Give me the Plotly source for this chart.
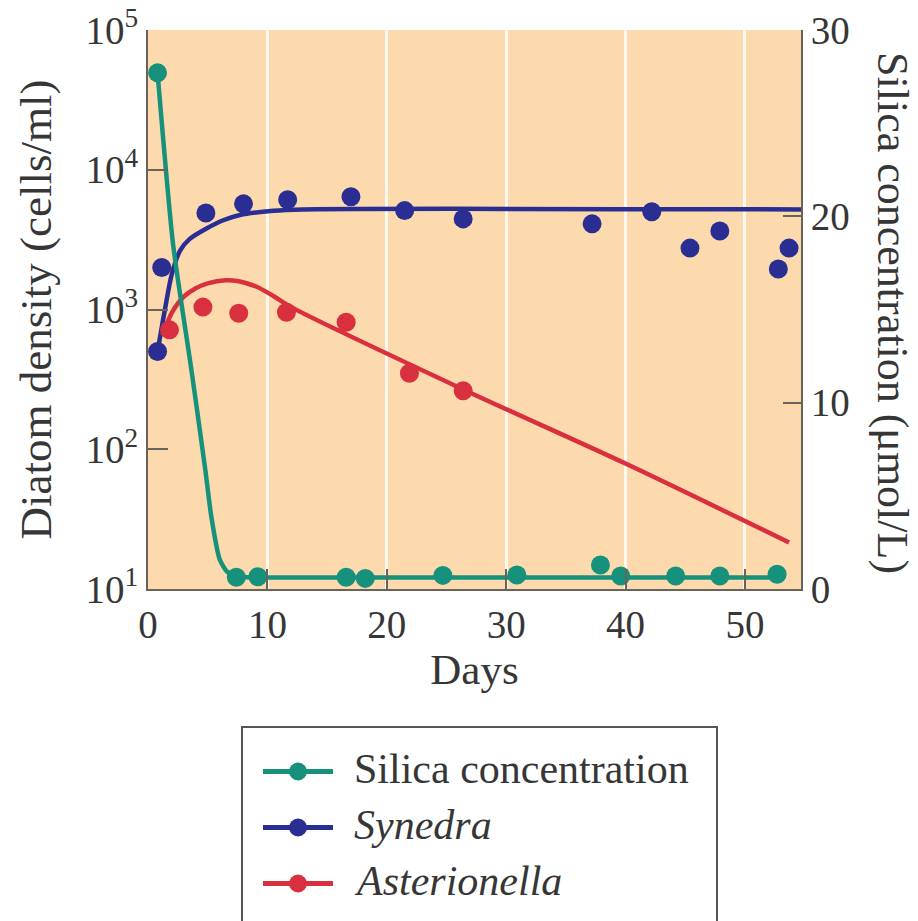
import plotly.graph_objects as go

# Measured samples (days since start)
silica_days = [0.8, 7.4, 9.2, 16.6, 18.2, 24.7, 30.9, 37.9, 39.6, 44.2, 47.9, 52.7]
silica_vals = [27.7, 0.63, 0.66, 0.63, 0.57, 0.73, 0.75, 1.29, 0.70, 0.70, 0.70, 0.79]

synedra_days = [0.8, 1.15, 4.85, 8.0, 11.7, 17.0, 21.5, 26.4, 37.2, 42.2, 45.4, 47.9, 52.8, 53.7]
synedra_vals = [500, 2000, 4900, 5700, 6100, 6400, 5100, 4450, 4100, 5000, 2750, 3650, 1950, 2750]

aster_days = [1.8, 4.6, 7.6, 11.6, 16.6, 21.9, 26.4]
aster_vals = [715, 1040, 940, 955, 810, 350, 262]

# Fitted trend curves
silica_fit_days = [0.8, 2.1, 3.65, 4.8, 5.3, 6.0, 6.6, 7.4, 9.0, 52.7]
silica_fit_vals = [27.7, 18.5, 11.7, 6.4, 3.9, 1.6, 0.95, 0.68, 0.62, 0.62]

synedra_fit_days = [0.8, 1.4, 2.0, 2.7, 3.5, 4.9, 6.3, 7.7, 10.5, 13.0, 54.7]
synedra_fit_vals = [500, 980, 1800, 2650, 3200, 3800, 4350, 4750, 5090, 5200, 5200]

aster_fit_days = [1.2, 2.0, 3.0, 4.0, 5.0, 6.5, 7.5, 9.1, 10.5, 12.0, 26.4, 40.0, 53.7]
aster_fit_vals = [650, 950, 1235, 1420, 1540, 1620, 1600, 1455, 1250, 1040, 268, 79, 21.5]

x_ticks = [0, 10, 20, 30, 40, 50]
density_ticks = [10, 100, 1000, 10000, 100000]
density_labels = ["10<sup>1</sup>", "10<sup>2</sup>", "10<sup>3</sup>", "10<sup>4</sup>", "10<sup>5</sup>"]
silica_ticks = [0, 10, 20, 30]

legend_names = ["Silica concentration", "<i>Synedra</i>", "<i>Asterionella</i>"]

GREEN = "#16917B"
BLUE = "#2A2D92"
RED = "#D8303E"
PEACH = "#FCDAAE"
AXIS = "#6A635A"
TEXT = "#363636"
FONT = "Liberation Serif"

fig = go.Figure()

fig.add_trace(go.Scatter(x=synedra_fit_days, y=synedra_fit_vals, mode="lines",
                         line=dict(color=BLUE, width=4.5, shape="spline", smoothing=0.8),
                         hoverinfo="skip"))
fig.add_trace(go.Scatter(x=synedra_days, y=synedra_vals, mode="markers",
                         marker=dict(color=BLUE, size=19), name="Synedra"))
fig.add_trace(go.Scatter(x=aster_fit_days, y=aster_fit_vals, mode="lines",
                         line=dict(color=RED, width=4.5, shape="spline", smoothing=0.8),
                         hoverinfo="skip"))
fig.add_trace(go.Scatter(x=aster_days, y=aster_vals, mode="markers",
                         marker=dict(color=RED, size=19), name="Asterionella"))
fig.add_trace(go.Scatter(x=silica_fit_days, y=silica_fit_vals, mode="lines", yaxis="y2",
                         line=dict(color=GREEN, width=4.5, shape="spline", smoothing=0.6),
                         hoverinfo="skip"))
fig.add_trace(go.Scatter(x=silica_days, y=silica_vals, mode="markers", yaxis="y2",
                         marker=dict(color=GREEN, size=19), name="Silica concentration"))

L, R, T, B = 148, 117, 30, 332
W, H = 918, 921
pw, ph = W - L - R, H - T - B


def px_x(px):
    return (px - L) / pw


def px_y(py):
    return (H - B - py) / ph


# Legend drawn as a framed key below the plot
shapes = [dict(type="rect", xref="paper", yref="paper",
               x0=px_x(242), x1=px_x(717), y0=px_y(940), y1=px_y(727),
               line=dict(color="#555555", width=2), fillcolor="white", layer="above")]
annotations = []
for i, (name, col) in enumerate(zip(legend_names, [GREEN, BLUE, RED])):
    cy = 771.5 + i * 56
    shapes.append(dict(type="line", xref="paper", yref="paper",
                       x0=px_x(263), x1=px_x(333), y0=px_y(cy), y1=px_y(cy),
                       line=dict(color=col, width=5)))
    shapes.append(dict(type="circle", xref="paper", yref="paper",
                       xsizemode="pixel", ysizemode="pixel",
                       xanchor=px_x(298), yanchor=px_y(cy),
                       x0=-9, x1=9, y0=-9, y1=9,
                       fillcolor=col, line=dict(color=col, width=0)))
    annotations.append(dict(xref="paper", yref="paper", x=px_x(352), y=px_y(cy - 3),
                            xanchor="left", yanchor="middle", showarrow=False,
                            text=name, font=dict(family=FONT, size=42, color=TEXT)))

annotations.append(dict(xref="paper", yref="paper", x=px_x(893), y=px_y(313),
                        xanchor="center", yanchor="middle", showarrow=False, textangle=90,
                        text="Silica concentration (μmol/L)",
                        font=dict(family=FONT, size=44, color=TEXT)))

fig.update_layout(
    width=W, height=H,
    margin=dict(l=L, r=R, t=T, b=B, autoexpand=False),
    plot_bgcolor=PEACH, paper_bgcolor="white",
    showlegend=False,
    font=dict(family=FONT, color=TEXT),
    shapes=shapes, annotations=annotations,
    xaxis=dict(range=[0, 54.7], tickvals=x_ticks, ticks="inside", ticklen=20, tickwidth=2,
               tickcolor=AXIS, showline=True, linecolor=AXIS, linewidth=2,
               showgrid=True, gridcolor="#FFF8EE", gridwidth=2.5, zeroline=False,
               tickfont=dict(family=FONT, size=39, color=TEXT),
               title=dict(text="Days", font=dict(family=FONT, size=43, color=TEXT), standoff=9)),
    yaxis=dict(type="log", range=[1, 5], tickvals=density_ticks, ticktext=density_labels,
               ticks="inside", ticklen=20, tickwidth=2, tickcolor=AXIS,
               showline=True, linecolor=AXIS, linewidth=2, showgrid=False, zeroline=False,
               tickfont=dict(family=FONT, size=39, color=TEXT),
               title=dict(text="Diatom density (cells/ml)",
                          font=dict(family=FONT, size=45, color=TEXT), standoff=20)),
    yaxis2=dict(overlaying="y", side="right", range=[0, 30], tickvals=silica_ticks,
                ticks="inside", ticklen=18, tickwidth=2, tickcolor=AXIS,
                showline=True, linecolor=AXIS, linewidth=2, showgrid=False, zeroline=False,
                tickfont=dict(family=FONT, size=39, color=TEXT)),
)

fig.write_html("out.html")
